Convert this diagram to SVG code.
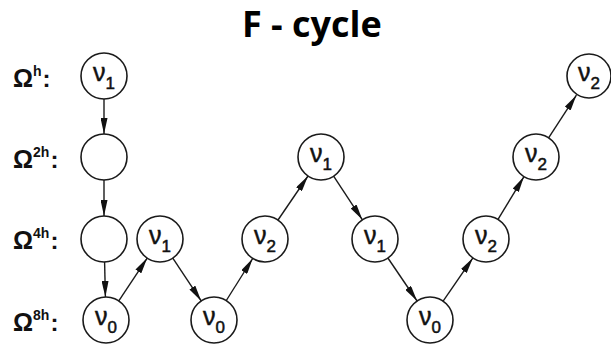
<svg xmlns="http://www.w3.org/2000/svg" width="611" height="344" viewBox="0 0 611 344">
<defs>
<style>
.node circle{fill:#fff;stroke:#1a1a1a;stroke-width:1.6}
.node text{font-family:"Liberation Sans",Arial,sans-serif;font-size:25px;fill:#111;stroke:#111;stroke-width:0.5;text-anchor:middle}
.sub{font-size:17px}
.lbl{font-family:"Liberation Sans",Arial,sans-serif;font-weight:bold;font-size:24px;fill:#111}
.om{font-size:25px}
.sup{font-size:14px}
.title{font-family:"Open Sans","DejaVu Sans",sans-serif;font-weight:bold;font-size:36px;fill:#000}
#edges line{stroke:#1a1a1a;stroke-width:1.4;marker-end:url(#arr)}
</style>
<marker id="arr" markerUnits="userSpaceOnUse" viewBox="0 0 16 7" markerWidth="16" markerHeight="7" refX="16" refY="3.5" orient="auto">
<path d="M0,0 L16,3.5 L0,7 z" fill="#111"/>
</marker>
</defs>
<rect width="611" height="344" fill="#fff"/>
<text class="title" x="242" y="37">F - cycle</text>
<g id="labels">
<text class="lbl" x="13" y="87"><tspan class="om">Ω</tspan><tspan class="sup" dy="-11">h</tspan><tspan dy="11" dx="1">:</tspan></text>
<text class="lbl" x="13" y="168"><tspan class="om">Ω</tspan><tspan class="sup" dy="-11">2h</tspan><tspan dy="11" dx="1">:</tspan></text>
<text class="lbl" x="13" y="249"><tspan class="om">Ω</tspan><tspan class="sup" dy="-11">4h</tspan><tspan dy="11" dx="1">:</tspan></text>
<text class="lbl" x="13" y="331"><tspan class="om">Ω</tspan><tspan class="sup" dy="-11">8h</tspan><tspan dy="11" dx="1">:</tspan></text>
</g>
<g id="edges">
<line x1="104" y1="99" x2="104" y2="134"/>
<line x1="104" y1="180" x2="104" y2="216"/>
<line x1="104.6" y1="262" x2="105.4" y2="297"/>
<line x1="118.8" y1="300.9" x2="147.2" y2="258.1"/>
<line x1="172.8" y1="258.1" x2="201.2" y2="300.9"/>
<line x1="226.3" y1="300.5" x2="252.7" y2="258.5"/>
<line x1="278" y1="220" x2="308" y2="176"/>
<line x1="333.6" y1="176.2" x2="362.4" y2="219.8"/>
<line x1="387.9" y1="258" x2="417.1" y2="301"/>
<line x1="443.1" y1="301.1" x2="472.9" y2="257.9"/>
<line x1="498" y1="219.4" x2="524" y2="176.6"/>
<line x1="548.6" y1="137.8" x2="576.4" y2="95.2"/>
</g>
<g id="nA" class="node"><circle cx="104" cy="76" r="23"/><text x="104" y="81">ν<tspan class="sub" dy="8">1</tspan></text></g>
<g id="nB" class="node"><circle cx="104" cy="157" r="23"/></g>
<g id="nC" class="node"><circle cx="104" cy="239" r="23"/></g>
<g id="nD" class="node"><circle cx="106" cy="320" r="23"/><text x="106" y="325">ν<tspan class="sub" dy="8">0</tspan></text></g>
<g id="nE" class="node"><circle cx="160" cy="239" r="23"/><text x="160" y="244">ν<tspan class="sub" dy="8">1</tspan></text></g>
<g id="nF" class="node"><circle cx="214" cy="320" r="23"/><text x="214" y="325">ν<tspan class="sub" dy="8">0</tspan></text></g>
<g id="nG" class="node"><circle cx="265" cy="239" r="23"/><text x="265" y="244">ν<tspan class="sub" dy="8">2</tspan></text></g>
<g id="nH" class="node"><circle cx="321" cy="157" r="23"/><text x="321" y="162">ν<tspan class="sub" dy="8">1</tspan></text></g>
<g id="nI" class="node"><circle cx="375" cy="239" r="23"/><text x="375" y="244">ν<tspan class="sub" dy="8">1</tspan></text></g>
<g id="nJ" class="node"><circle cx="430" cy="320" r="23"/><text x="430" y="325">ν<tspan class="sub" dy="8">0</tspan></text></g>
<g id="nK" class="node"><circle cx="486" cy="239" r="23"/><text x="486" y="244">ν<tspan class="sub" dy="8">2</tspan></text></g>
<g id="nL" class="node"><circle cx="536" cy="157" r="23"/><text x="536" y="162">ν<tspan class="sub" dy="8">2</tspan></text></g>
<g id="nM" class="node"><circle cx="589" cy="76" r="22"/><text x="589" y="81">ν<tspan class="sub" dy="8">2</tspan></text></g>
</svg>
